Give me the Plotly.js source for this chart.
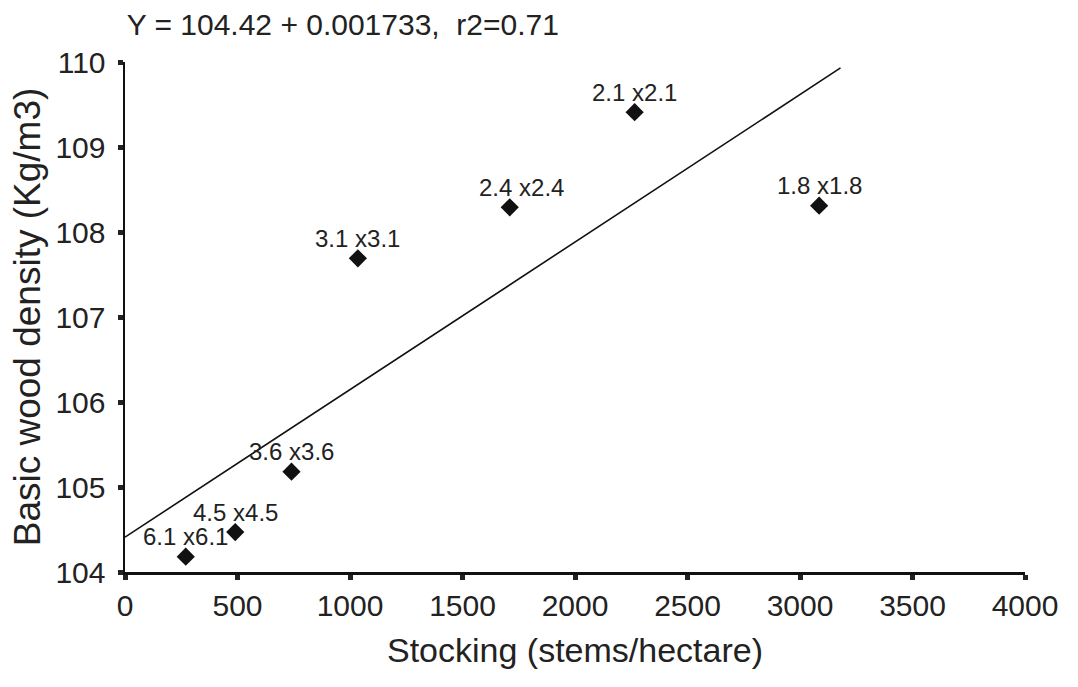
<!DOCTYPE html>
<html>
<head>
<meta charset="utf-8">
<script src="https://cdn.plot.ly/plotly-3.0.1.min.js"></script>
<style>html,body{margin:0;padding:0;background:#fff;}#chart{width:1078px;height:687px;}</style>
</head>
<body>
<div id="chart"></div>
<script>
// Data
const spacingLabels = ["6.1 x6.1", "4.5 x4.5", "3.6 x3.6", "3.1 x3.1", "2.4 x2.4", "2.1 x2.1", "1.8 x1.8"];
const stocking = [270, 490, 740, 1035, 1710, 2265, 3085];
const density = [104.18, 104.47, 105.18, 107.69, 108.29, 109.41, 108.31];
const fitX = [0, 3180];
const fitY = [104.41, 109.93];
const xTicks = [0, 500, 1000, 1500, 2000, 2500, 3000, 3500, 4000];
const yTicks = [104, 105, 106, 107, 108, 109, 110];

const sans = "Liberation Sans, Arial, sans-serif";
const labelShiftX = [0, 0, 0, 0, 12, 0, 0];

const traces = [
  {
    x: fitX, y: fitY, type: "scatter", mode: "lines",
    line: {color: "#111", width: 1.6}, hoverinfo: "skip", showlegend: false, cliponaxis: false
  },
  {
    x: stocking, y: density, type: "scatter", mode: "markers",
    marker: {symbol: "diamond", size: 14, color: "#111"},
    showlegend: false, cliponaxis: false
  }
];

const annotations = spacingLabels.map((t, i) => ({
  x: stocking[i], y: density[i], xref: "x", yref: "y",
  text: t, showarrow: false, xanchor: "center", yanchor: "middle",
  yshift: 20, xshift: labelShiftX[i],
  font: {family: sans, size: 24, color: "#222"}
}));

const layout = {
  width: 1078, height: 687,
  margin: {l: 125, r: 53, t: 62, b: 115},
  paper_bgcolor: "#fff", plot_bgcolor: "#fff",
  showlegend: false,
  title: {
    text: "Y = 104.42 + 0.001733,\u00a0 r2=0.71",
    font: {family: sans, size: 30, color: "#222"},
    x: 0.318, xref: "container", xanchor: "center",
    y: 0.965, yref: "container", yanchor: "middle"
  },
  xaxis: {
    range: [0, 4000], tickvals: xTicks, ticktext: xTicks.map(String),
    showgrid: false, zeroline: false,
    showline: true, linecolor: "#111", linewidth: 2.5,
    ticks: "outside", ticklen: 5, tickwidth: 5, tickcolor: "#222",
    tickfont: {family: sans, size: 30, color: "#222"},
    ticklabelstandoff: 0,
    title: {text: "Stocking (stems/hectare)", font: {family: sans, size: 34, color: "#222"}, standoff: 18}
  },
  yaxis: {
    range: [104, 110], tickvals: yTicks, ticktext: yTicks.map(String),
    showgrid: false, zeroline: false,
    showline: true, linecolor: "#111", linewidth: 2.5,
    ticks: "outside", ticklen: 5, tickwidth: 5, tickcolor: "#222",
    tickfont: {family: sans, size: 30, color: "#222"},
    ticklabelstandoff: 6,
    title: {text: "Basic wood density (Kg/m3)", font: {family: sans, size: 37, color: "#222"}, standoff: 4}
  },
  annotations: annotations
};

Plotly.newPlot("chart", traces, layout, {displayModeBar: false, staticPlot: true});
</script>
</body>
</html>
